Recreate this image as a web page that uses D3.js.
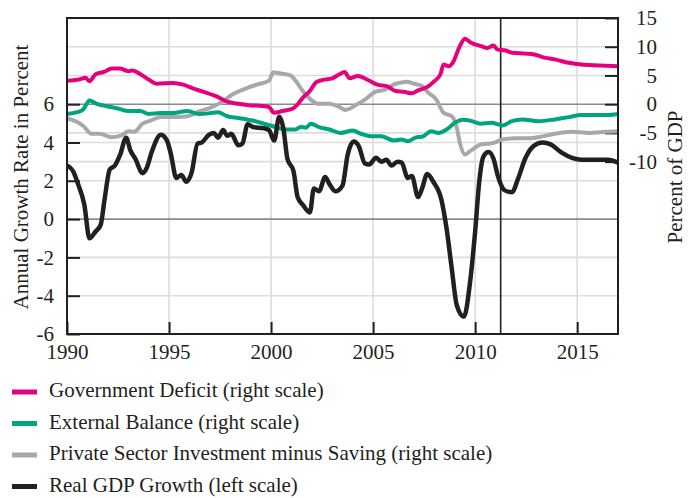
<!DOCTYPE html>
<html>
<head>
<meta charset="utf-8">
<script src="https://cdn.jsdelivr.net/npm/d3@7"></script>
<style>
  body { margin: 0; background: #fff; }
  svg { display: block; font-family: "Liberation Serif", serif; }
  .tick text { font-family: "Liberation Serif", serif; font-size: 21px; fill: #231f20; }
  .tick line { stroke: #231f20; stroke-width: 2; }
</style>
</head>
<body>
<svg id="chart" width="688" height="498"></svg>
<script>
// [year, value] pairs
const govDeficit = [[1990.0,4.1],[1990.6,4.3],[1990.9,4.6],[1991.1,4.0],[1991.4,5.2],[1991.8,5.6],[1992.2,6.2],[1992.6,6.2],[1993.0,5.75],[1993.2,5.85],[1993.6,5.2],[1994.0,4.3],[1994.4,3.55],[1995.2,3.7],[1995.7,3.4],[1996.2,2.7],[1996.7,2.15],[1997.3,1.4],[1997.9,0.4],[1998.4,0.07],[1998.9,-0.17],[1999.6,-0.3],[1999.9,-0.5],[2000.15,-1.5],[2000.55,-1.2],[2001.05,-0.8],[2001.3,-0.05],[2001.55,1.1],[2001.9,2.3],[2002.2,3.8],[2002.5,4.2],[2003.0,4.5],[2003.35,5.2],[2003.6,5.6],[2003.85,4.5],[2004.25,4.9],[2004.7,4.3],[2005.2,3.4],[2005.7,3.1],[2006.1,2.3],[2006.5,2.15],[2006.9,1.9],[2007.2,2.4],[2007.7,3.1],[2008.0,4.0],[2008.3,5.2],[2008.45,6.9],[2008.7,6.6],[2008.9,7.2],[2009.25,10.1],[2009.5,11.4],[2009.8,10.7],[2010.3,10.1],[2010.6,9.8],[2010.9,10.2],[2011.1,9.5],[2011.5,9.35],[2011.8,8.95],[2012.45,8.8],[2012.9,8.65],[2013.3,8.2],[2013.9,7.8],[2014.6,7.2],[2015.2,6.9],[2016.1,6.75],[2017.0,6.6]]

const externalBalance = [[1990.0,-1.7],[1990.5,-1.4],[1990.8,-0.9],[1991.1,0.65],[1991.45,0.07],[1991.95,-0.35],[1992.5,-0.75],[1993.0,-1.2],[1993.6,-1.2],[1994.0,-1.7],[1994.6,-1.55],[1995.2,-1.55],[1995.9,-1.2],[1996.5,-1.7],[1996.95,-1.6],[1997.4,-1.4],[1997.85,-2.1],[1998.4,-2.4],[1999.1,-2.85],[1999.75,-3.5],[2000.25,-4.0],[2000.7,-4.4],[2001.2,-4.4],[2001.45,-3.95],[2001.7,-4.1],[2001.95,-3.4],[2002.35,-4.0],[2002.85,-4.4],[2003.4,-5.0],[2004.0,-4.6],[2004.4,-5.15],[2004.9,-5.6],[2005.4,-5.6],[2006.0,-6.3],[2006.4,-6.15],[2006.7,-6.45],[2007.05,-5.85],[2007.45,-5.6],[2007.85,-4.7],[2008.2,-5.0],[2008.6,-4.4],[2009.0,-3.25],[2009.4,-2.7],[2009.8,-2.9],[2010.25,-3.4],[2010.8,-3.25],[2011.35,-3.7],[2011.8,-2.95],[2012.3,-2.65],[2013.1,-2.95],[2013.9,-2.65],[2014.6,-2.25],[2015.2,-1.9],[2016.4,-1.9],[2017.0,-1.7]]

const privateBalance = [[1990.0,-2.5],[1990.5,-3.1],[1990.8,-3.8],[1991.2,-5.15],[1991.6,-5.15],[1992.2,-5.75],[1992.7,-5.4],[1993.0,-4.7],[1993.3,-4.8],[1993.7,-3.4],[1994.1,-2.85],[1994.6,-2.25],[1995.2,-2.25],[1995.9,-2.1],[1996.5,-1.2],[1996.95,-0.75],[1997.6,0.4],[1998.1,1.7],[1998.75,2.7],[1999.3,3.4],[1999.9,4.1],[2000.1,5.5],[2000.55,5.3],[2000.95,5.0],[2001.2,4.1],[2001.55,2.3],[2001.95,0.8],[2002.3,0.07],[2002.85,0.07],[2003.35,-0.5],[2003.65,-1.0],[2004.2,-0.05],[2004.6,0.8],[2005.1,2.15],[2005.6,2.55],[2006.0,3.4],[2006.3,3.7],[2006.65,3.9],[2007.0,3.55],[2007.4,3.15],[2007.7,2.0],[2008.1,0.8],[2008.45,-1.5],[2008.85,-2.1],[2009.1,-4.1],[2009.25,-6.7],[2009.5,-8.75],[2009.8,-8.05],[2010.3,-7.0],[2010.6,-6.9],[2010.95,-6.7],[2011.3,-6.15],[2011.95,-5.95],[2012.6,-5.95],[2013.3,-5.6],[2013.9,-5.15],[2014.75,-4.8],[2015.6,-5.0],[2016.4,-4.8],[2017.0,-4.7]]

const gdpGrowth = [[1990.0,2.8],[1990.3,2.5],[1990.55,1.8],[1990.85,0.75],[1991.1,-1.0],[1991.4,-0.65],[1991.65,-0.3],[1991.85,1.1],[1992.1,2.6],[1992.35,2.8],[1992.6,3.35],[1992.9,4.25],[1993.1,3.6],[1993.35,3.15],[1993.7,2.4],[1993.9,2.65],[1994.15,3.5],[1994.6,4.4],[1994.9,4.1],[1995.1,3.35],[1995.35,2.15],[1995.6,2.3],[1995.85,1.95],[1996.1,2.4],[1996.4,3.95],[1996.6,4.0],[1996.95,4.4],[1997.2,4.5],[1997.4,4.25],[1997.65,4.65],[1997.85,4.35],[1998.05,4.45],[1998.4,3.85],[1998.6,3.95],[1998.85,4.95],[1999.15,4.8],[1999.6,4.75],[1999.9,4.65],[2000.15,4.1],[2000.4,5.35],[2000.6,4.75],[2000.8,3.15],[2001.1,2.5],[2001.3,1.15],[2001.55,0.75],[2001.9,0.35],[2002.1,1.6],[2002.35,1.45],[2002.65,2.2],[2002.85,1.85],[2003.15,1.45],[2003.5,1.75],[2003.75,3.35],[2004.05,4.05],[2004.3,3.8],[2004.6,2.9],[2004.8,2.85],[2005.15,3.2],[2005.4,3.0],[2005.65,3.1],[2005.9,2.8],[2006.2,3.0],[2006.4,2.95],[2006.7,2.15],[2006.9,2.25],[2007.2,1.15],[2007.4,1.6],[2007.65,2.35],[2007.95,1.95],[2008.35,1.0],[2008.6,-0.5],[2008.85,-2.55],[2009.1,-4.5],[2009.45,-5.1],[2009.75,-3.3],[2010.0,-0.65],[2010.2,1.95],[2010.4,3.25],[2010.65,3.5],[2010.9,3.15],[2011.1,2.3],[2011.45,1.5],[2011.8,1.4],[2012.1,2.1],[2012.45,3.15],[2012.85,3.8],[2013.3,4.0],[2013.7,3.9],[2014.2,3.5],[2014.75,3.2],[2015.2,3.1],[2016.1,3.1],[2016.5,3.1],[2017.0,2.95]]

const yearTicks = [1990, 1995, 2000, 2005, 2010, 2015]
const leftTicks = [-6, -4, -2, 0, 2, 4, 6]
const rightTicks = [15, 10, 5, 0, -5, -10]
const markerYear = 2011.25

const series = [
    { name: "Private Sector Investment minus Saving (right scale)", data: privateBalance, axis: "right", color: "#a7a8aa" },
    { name: "External Balance (right scale)", data: externalBalance, axis: "right", color: "#00a57f" },
    { name: "Government Deficit (right scale)", data: govDeficit, axis: "right", color: "#e6007e" },
    { name: "Real GDP Growth (left scale)", data: gdpGrowth, axis: "left", color: "#231f20" }
]
const legendOrder = [2, 1, 0, 3]

const margin = { top: 18, right: 70, bottom: 164, left: 67 }
const width = 688 - margin.left - margin.right
const height = 498 - margin.top - margin.bottom

const svg = d3.select("#chart")
const g = svg.append("g")
    .attr("transform", "translate(" + margin.left + "," + margin.top + ")")

const x = d3.scaleLinear().domain([1990, 2017]).range([0, width])
const yL = d3.scaleLinear().domain([-6, 10.5]).range([height, 0])
const yR = d3.scaleLinear().domain([-40, 15]).range([height, 0])

// grid
const grid = g.append("g")
grid.selectAll(".vg")
    .data(yearTicks.slice(1))
    .join("line")
    .attr("x1", d => x(d)).attr("x2", d => x(d))
    .attr("y1", 0).attr("y2", height)
    .attr("stroke", "#dcdcdc").attr("stroke-width", 1.6)

grid.selectAll(".hl")
    .data(leftTicks.filter(d => d !== 0 && d !== 6 && d !== -6))
    .join("line")
    .attr("x1", 0).attr("x2", width)
    .attr("y1", d => yL(d)).attr("y2", d => yL(d))
    .attr("stroke", "#dcdcdc").attr("stroke-width", 1.6)

grid.selectAll(".hr")
    .data(rightTicks.filter(d => d !== 0 && d !== 15))
    .join("line")
    .attr("x1", 0).attr("x2", width)
    .attr("y1", d => yR(d)).attr("y2", d => yR(d))
    .attr("stroke", "#dcdcdc").attr("stroke-width", 1.6)

// zero lines
grid.append("line")
    .attr("x1", 0).attr("x2", width)
    .attr("y1", yL(0)).attr("y2", yL(0))
    .attr("stroke", "#8a8a8a").attr("stroke-width", 1.6)
grid.append("line")
    .attr("x1", 0).attr("x2", width)
    .attr("y1", yR(0)).attr("y2", yR(0))
    .attr("stroke", "#8a8a8a").attr("stroke-width", 1.6)

// marker line
g.append("line")
    .attr("x1", x(markerYear)).attr("x2", x(markerYear))
    .attr("y1", 0).attr("y2", height)
    .attr("stroke", "#231f20").attr("stroke-width", 1.6)

// axes
const fmt = d => String(d)
const leftAxis = d3.axisLeft(yL).tickValues(leftTicks).tickFormat(fmt).tickSize(-13).tickPadding(13)
const rightAxis = d3.axisRight(yR).tickValues(rightTicks).tickFormat(fmt).tickSize(-13).tickPadding(13)
const bottomAxis = d3.axisBottom(x).tickValues(yearTicks).tickFormat(fmt).tickSize(-12).tickPadding(10)

g.append("g").attr("class", "y-axis").call(leftAxis)
g.append("g").attr("class", "y2-axis")
    .attr("transform", "translate(" + width + ",0)")
    .call(rightAxis)
    .selectAll("text").attr("text-anchor", "end").attr("x", 39)
g.append("g").attr("class", "x-axis")
    .attr("transform", "translate(0," + height + ")")
    .call(bottomAxis)
svg.selectAll(".domain").remove()

// lines
const line = scale => d3.line()
    .x(d => x(d[0]))
    .y(d => scale(d[1]))
    .curve(d3.curveMonotoneX)

g.append("g").selectAll("path")
    .data(series)
    .join("path")
    .attr("d", d => line(d.axis === "left" ? yL : yR)(d.data))
    .attr("fill", "none")
    .attr("stroke", d => d.color)
    .attr("stroke-width", d => d.axis === "left" ? 4.5 : 4)
    .attr("stroke-linejoin", "round")

// frame
g.append("rect")
    .attr("width", width).attr("height", height)
    .attr("fill", "none").attr("stroke", "#231f20").attr("stroke-width", 2)

// axis titles
svg.append("text")
    .attr("transform", "translate(28,177) rotate(-90)")
    .attr("text-anchor", "middle")
    .style("font-size", "21px").attr("fill", "#231f20")
    .text("Annual Growth Rate in Percent")
svg.append("text")
    .attr("transform", "translate(682,177) rotate(-90)")
    .attr("text-anchor", "middle")
    .style("font-size", "21px").attr("fill", "#231f20")
    .text("Percent of GDP")

// legend
const legend = svg.append("g").selectAll("g")
    .data(legendOrder.map(i => series[i]))
    .join("g")
    .attr("transform", (d, i) => "translate(12," + (392 + i * 31.5) + ")")
legend.append("line")
    .attr("x1", 0).attr("x2", 25)
    .attr("stroke", d => d.color).attr("stroke-width", 5)
legend.append("text")
    .attr("x", 37).attr("y", 5)
    .style("font-size", "21px").attr("fill", "#231f20")
    .text(d => d.name)
</script>
</body>
</html>
